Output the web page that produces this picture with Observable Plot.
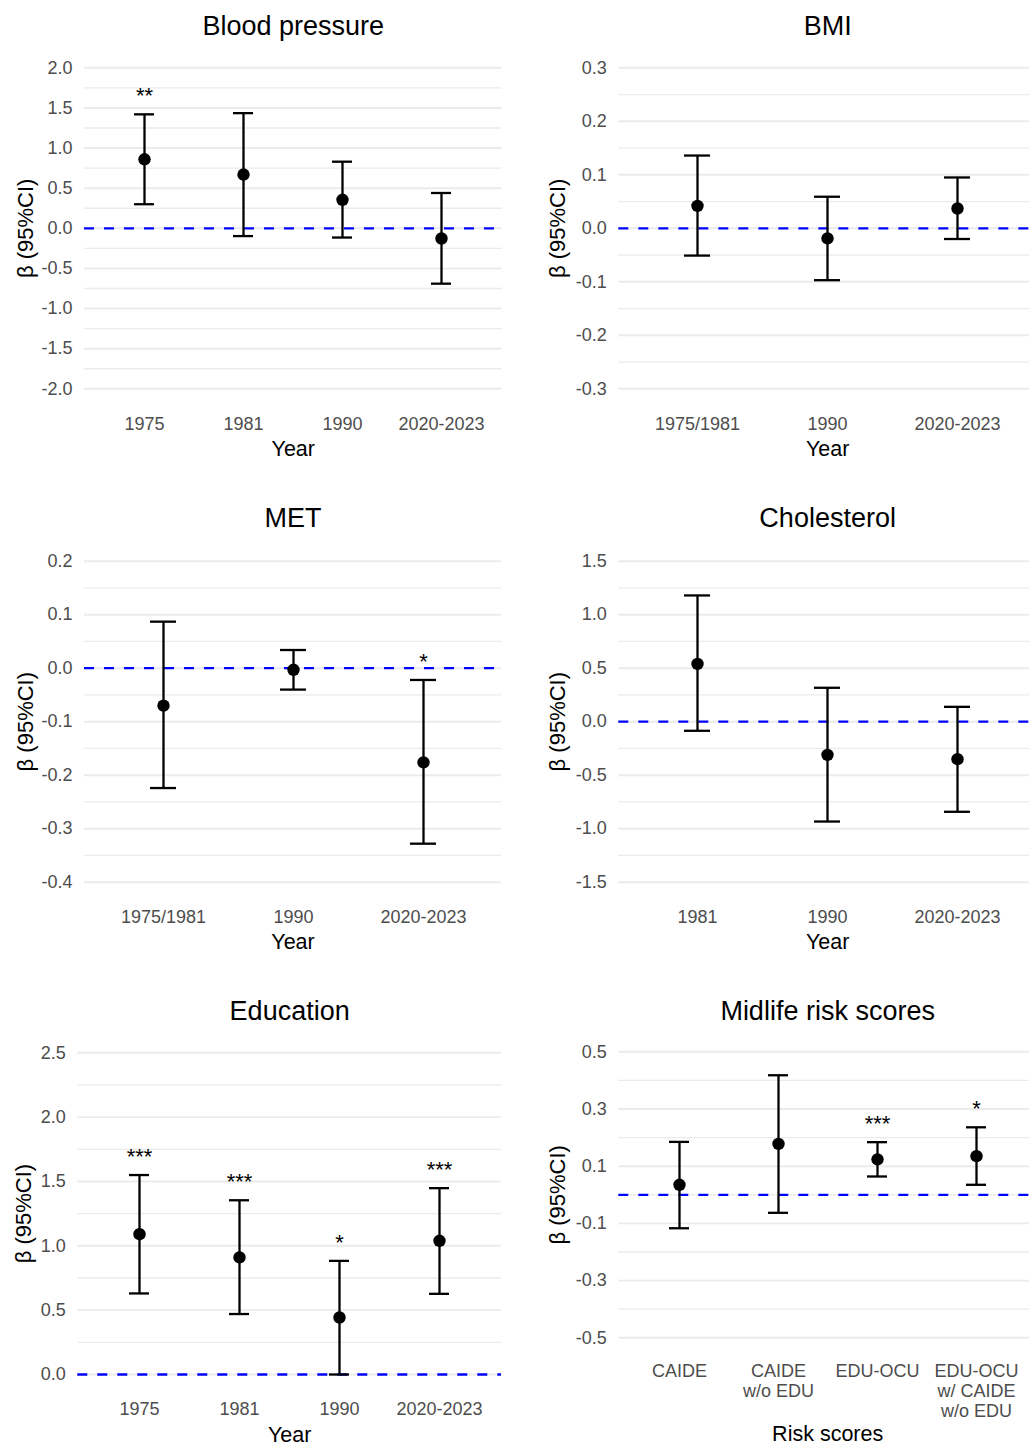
<!DOCTYPE html>
<html>
<head>
<meta charset="utf-8">
<script src="https://cdn.jsdelivr.net/npm/d3@7"></script>
<script src="https://cdn.jsdelivr.net/npm/@observablehq/plot@0.6"></script>
<style>
  html, body { margin: 0; padding: 0; background: #ffffff; }
  #wrap { position: relative; width: 1029px; height: 1446px; overflow: hidden; background: #ffffff; }
  #wrap > .panel { position: absolute; }
  #wrap > .panel > svg { max-width: none !important; }
</style>
</head>
<body>
<div id="wrap"></div>
<script>
// ---------------- DATA ----------------
// Blood pressure
const bpCats  = ["1975", "1981", "1990", "2020-2023"];
const bpBeta  = [0.86, 0.67, 0.355, -0.127];
const bpLower = [0.30, -0.097, -0.115, -0.69];
const bpUpper = [1.42, 1.435, 0.83, 0.44];
const bpStars = ["**", "", "", ""];
const bpTicks = [-2, -1.5, -1, -0.5, 0, 0.5, 1, 1.5, 2];
const bpMinor = [-1.75, -1.25, -0.75, -0.25, 0.25, 0.75, 1.25, 1.75];

// BMI
const bmiCats  = ["1975/1981", "1990", "2020-2023"];
const bmiBeta  = [0.042, -0.019, 0.037];
const bmiLower = [-0.051, -0.097, -0.020];
const bmiUpper = [0.136, 0.059, 0.095];
const bmiStars = ["", "", ""];
const bmiTicks = [-0.3, -0.2, -0.1, 0, 0.1, 0.2, 0.3];
const bmiMinor = [-0.25, -0.15, -0.05, 0.05, 0.15, 0.25];

// MET
const metCats  = ["1975/1981", "1990", "2020-2023"];
const metBeta  = [-0.070, -0.003, -0.176];
const metLower = [-0.224, -0.040, -0.328];
const metUpper = [0.087, 0.034, -0.022];
const metStars = ["", "", "*"];
const metTicks = [-0.4, -0.3, -0.2, -0.1, 0, 0.1, 0.2];
const metMinor = [-0.35, -0.25, -0.15, -0.05, 0.05, 0.15];

// Cholesterol
const cholCats  = ["1981", "1990", "2020-2023"];
const cholBeta  = [0.54, -0.31, -0.35];
const cholLower = [-0.085, -0.933, -0.842];
const cholUpper = [1.18, 0.317, 0.139];
const cholStars = ["", "", ""];
const cholTicks = [-1.5, -1, -0.5, 0, 0.5, 1, 1.5];
const cholMinor = [-1.25, -0.75, -0.25, 0.25, 0.75, 1.25];

// Education
const eduCats  = ["1975", "1981", "1990", "2020-2023"];
const eduBeta  = [1.09, 0.91, 0.443, 1.039];
const eduLower = [0.63, 0.47, 0.0, 0.627];
const eduUpper = [1.55, 1.354, 0.883, 1.448];
const eduStars = ["***", "***", "*", "***"];
const eduTicks = [0, 0.5, 1, 1.5, 2, 2.5];
const eduMinor = [0.25, 0.75, 1.25, 1.75, 2.25];

// Midlife risk scores
const midCats  = ["CAIDE", "CAIDE\nw/o EDU", "EDU-OCU", "EDU-OCU\nw/ CAIDE\nw/o EDU"];
const midBeta  = [0.035, 0.178, 0.124, 0.135];
const midLower = [-0.117, -0.063, 0.064, 0.035];
const midUpper = [0.185, 0.418, 0.184, 0.236];
const midStars = ["", "", "***", "*"];
const midTicks = [-0.5, -0.3, -0.1, 0.1, 0.3, 0.5];
const midMinor = [-0.4, -0.2, 0, 0.2, 0.4];

const yTitle = "β (95%CI)";

// ---------------- LAYOUT ----------------
const FONT = "'Liberation Sans', Arial, Helvetica, sans-serif";

const panels = [
  {title: "Blood pressure", xlabel: "Year", cats: bpCats, beta: bpBeta, lower: bpLower, upper: bpUpper, stars: bpStars, ticks: bpTicks, minor: bpMinor,
   left: 0, top: 0, width: 514, height: 490, mL: 84, mR: 12.5, mT: 51.25, mB: 85.65, titleDy: -25.5, xlabDy: 44.5, ylabDx: -59},
  {title: "BMI", xlabel: "Year", cats: bmiCats, beta: bmiBeta, lower: bmiLower, upper: bmiUpper, stars: bmiStars, ticks: bmiTicks, minor: bmiMinor,
   left: 514, top: 0, width: 522, height: 490, mL: 104.3, mR: 0, mT: 51.25, mB: 85.65, titleDy: -25.5, xlabDy: 44.5, ylabDx: -61},
  {title: "MET", xlabel: "Year", cats: metCats, beta: metBeta, lower: metLower, upper: metUpper, stars: metStars, ticks: metTicks, minor: metMinor,
   left: 0, top: 490, width: 514, height: 490, mL: 84, mR: 13, mT: 54.65, mB: 82.25, titleDy: -27, xlabDy: 44, ylabDx: -59},
  {title: "Cholesterol", xlabel: "Year", cats: cholCats, beta: cholBeta, lower: cholLower, upper: cholUpper, stars: cholStars, ticks: cholTicks, minor: cholMinor,
   left: 514, top: 490, width: 522, height: 490, mL: 104.3, mR: 0, mT: 54.65, mB: 82.25, titleDy: -27, xlabDy: 44, ylabDx: -61},
  {title: "Education", xlabel: "Year", cats: eduCats, beta: eduBeta, lower: eduLower, upper: eduUpper, stars: eduStars, ticks: eduTicks, minor: eduMinor,
   left: 0, top: 980, width: 514, height: 466, mL: 77.3, mR: 13, mT: 56.2, mB: 55.9, titleDy: -25.5, xlabDy: 44.5, ylabDx: -54},
  {title: "Midlife risk scores", xlabel: "Risk scores", cats: midCats, beta: midBeta, lower: midLower, upper: midUpper, stars: midStars, ticks: midTicks, minor: midMinor,
   left: 514, top: 980, width: 522, height: 466, mL: 104.3, mR: 0, mT: 57, mB: 94.4, titleDy: -26.5, xlabDy: 82.5, ylabDx: -61}
];

function makePanel(cfg) {
  const data = cfg.cats.map((c, i) => ({cat: c, beta: cfg.beta[i], lo: cfg.lower[i], hi: cfg.upper[i], star: cfg.stars[i]}));
  const tmin = d3.min(cfg.ticks), tmax = d3.max(cfg.ticks);
  const pad = 0.05 * (tmax - tmin);
  const ink = {stroke: "#000000", strokeWidth: 2.3};
  return Plot.plot({
    width: cfg.width,
    height: cfg.height,
    marginLeft: cfg.mL,
    marginRight: cfg.mR,
    marginTop: cfg.mT,
    marginBottom: cfg.mB,
    style: {fontFamily: FONT, background: "transparent", overflow: "visible", color: "#000000", maxWidth: "none"},
    x: {type: "band", domain: cfg.cats, paddingInner: 0.8, paddingOuter: 0.5, align: 0.5, axis: null},
    y: {domain: [tmin - pad, tmax + pad], axis: null},
    marks: [
      Plot.ruleY(cfg.minor, {stroke: "#ebebeb", strokeWidth: 1.3}),
      Plot.ruleY(cfg.ticks, {stroke: "#ebebeb", strokeWidth: 1.9}),
      Plot.ruleY([0], {stroke: "#0000ff", strokeWidth: 2.3, strokeDasharray: "10,10"}),
      Plot.ruleX(data, {x: "cat", y1: "lo", y2: "hi", ...ink}),
      Plot.tickY(data, {x: "cat", y: "hi", ...ink}),
      Plot.tickY(data, {x: "cat", y: "lo", ...ink}),
      Plot.dot(data, {x: "cat", y: "beta", r: 6.2, fill: "#000000", stroke: null}),
      Plot.text(data, {x: "cat", y: "hi", text: "star", dy: -18, fontSize: 22, fill: "#000000", lineAnchor: "middle"}),
      Plot.axisY({ticks: cfg.ticks, tickSize: 0, tickPadding: 12, tickFormat: d => d.toFixed(1),
                  fontSize: 18, color: "#4d4d4d", label: null}),
      Plot.axisX({tickSize: 0, tickPadding: 10.5, fontSize: 18, color: "#4d4d4d", label: null, lineHeight: 1.11}),
      Plot.text([cfg.title], {frameAnchor: "top", lineAnchor: "middle", textAnchor: "middle", dy: cfg.titleDy, fontSize: 27, fill: "#000000"}),
      Plot.text([cfg.xlabel], {frameAnchor: "bottom", lineAnchor: "middle", textAnchor: "middle", dy: cfg.xlabDy, fontSize: 21.5, fill: "#000000"}),
      Plot.text([yTitle], {frameAnchor: "left", lineAnchor: "middle", textAnchor: "middle", dx: cfg.ylabDx, rotate: -90, fontSize: 22, fill: "#000000"})
    ]
  });
}

const wrap = document.getElementById("wrap");
for (const cfg of panels) {
  const holder = document.createElement("div");
  holder.className = "panel";
  holder.style.left = cfg.left + "px";
  holder.style.top = cfg.top + "px";
  holder.style.width = cfg.width + "px";
  holder.style.height = cfg.height + "px";
  holder.appendChild(makePanel(cfg));
  wrap.appendChild(holder);
}
</script>
</body>
</html>
